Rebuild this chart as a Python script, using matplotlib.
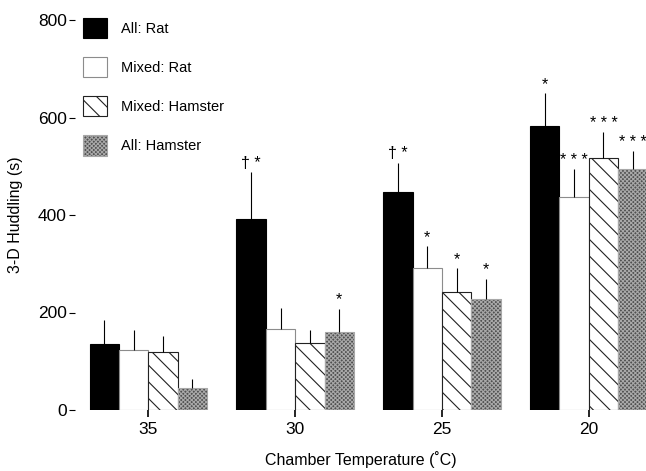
import numpy as np
import matplotlib.pyplot as plt
from matplotlib.patches import Patch

plt.rcParams['font.family'] = ['Liberation Sans', 'DejaVu Sans']
plt.rcParams['hatch.linewidth'] = 0.8

temps = ["35", "30", "25", "20"]
groups = ["All: Rat", "Mixed: Rat", "Mixed: Hamster", "All: Hamster"]

# mean huddling time (s) per group at each temperature, with upper error
all_rat = [135, 392, 447, 583]
mixed_rat = [123, 166, 291, 437]
mixed_hamster = [119, 137, 242, 517]
all_hamster = [45, 160, 228, 494]

all_rat_err = [50, 96, 60, 67]
mixed_rat_err = [41, 43, 45, 57]
mixed_hamster_err = [33, 27, 49, 53]
all_hamster_err = [19, 47, 41, 37]

# significance marks above each bar
all_rat_sig = ["", "\u2020 *", "\u2020 *", "*"]
mixed_rat_sig = ["", "", "*", "* * *"]
mixed_hamster_sig = ["", "", "*", "* * *"]
all_hamster_sig = ["", "*", "*", "* * *"]

means = [all_rat, mixed_rat, mixed_hamster, all_hamster]
errs = [all_rat_err, mixed_rat_err, mixed_hamster_err, all_hamster_err]
sigs = [all_rat_sig, mixed_rat_sig, mixed_hamster_sig, all_hamster_sig]

styles = [
    dict(facecolor="black", edgecolor="black", hatch=None),
    dict(facecolor="white", edgecolor="#8c8c8c", hatch=None),
    dict(facecolor="white", edgecolor="#222222", hatch="\\\\"),
    dict(facecolor="#505050", edgecolor="#a8a8a8", hatch="xxxxxxxx"),
]

fig = plt.figure(figsize=(6.46, 4.71), dpi=100)
ax = fig.add_axes([75 / 646, 1 - 410 / 471, 1 - 75 / 646, 390 / 471])

x = np.arange(len(temps))
width = 0.2
offsets = [-1.5, -0.5, 0.5, 1.5]

for i in range(4):
    pos = x + offsets[i] * width
    ax.bar(pos, means[i], width, linewidth=0.8, **styles[i])
    tops = np.array(means[i]) + np.array(errs[i])
    ax.vlines(pos, means[i], tops, color="black", linewidth=0.8)
    for p, t, s in zip(pos, tops, sigs[i]):
        if s:
            ax.text(p, t + 3, s, ha="center", va="bottom", fontsize=11.5)

legend_handles = [Patch(label=g, linewidth=0.8, **st) for g, st in zip(groups, styles)]
ax.legend(handles=legend_handles, loc="upper left",
          bbox_to_anchor=(83 / 646, 1 - 18 / 471), bbox_transform=fig.transFigure,
          frameon=False, fontsize=10.5, borderpad=0, borderaxespad=0,
          handlelength=1.65, handleheight=1.75, labelspacing=1.3,
          handletextpad=0.95)

ax.set_xlim(-0.5, 3.39)
ax.set_ylim(0, 800)
ax.set_yticks([0, 200, 400, 600, 800])
ax.set_xticks(x)
ax.set_xticklabels(temps)
for s in ax.spines.values():
    s.set_visible(False)
ax.tick_params(axis="y", direction="out", length=4, width=0.8, pad=2, labelsize=12.5)
ax.tick_params(axis="x", direction="out", length=5, width=1.2, pad=4, labelsize=12.5)

ax.set_ylabel("3-D Huddling (s)", fontsize=11.5, labelpad=11)
ax.set_xlabel("Chamber Temperature (\u02daC)", fontsize=11.5, labelpad=10)

fig.savefig("out.png", dpi=100)
plt.close(fig)
